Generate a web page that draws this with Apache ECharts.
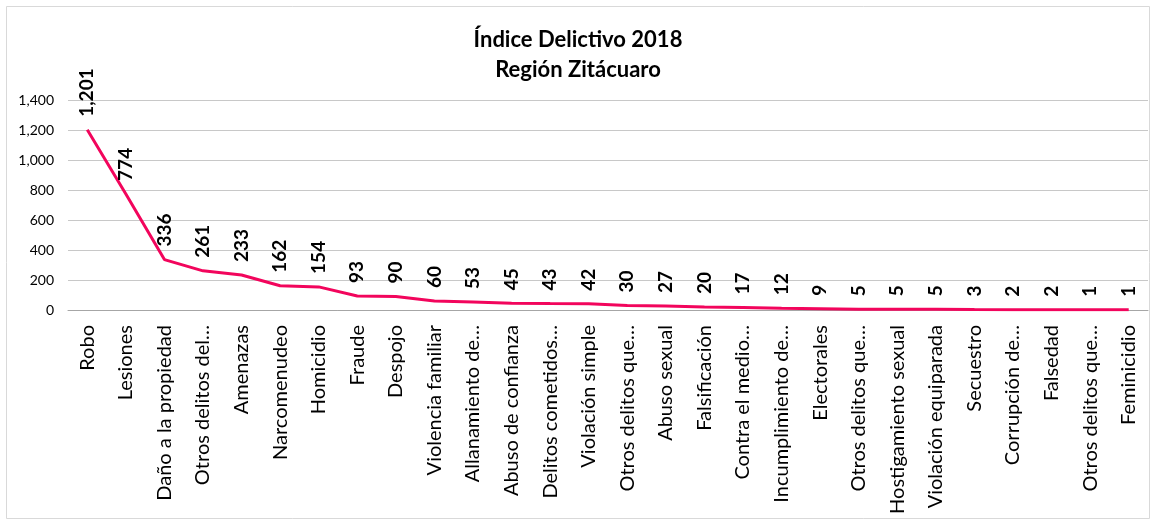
<!DOCTYPE html>
<html>
<head>
<meta charset="utf-8">
<script src="https://cdn.jsdelivr.net/npm/echarts@6/dist/echarts.min.js"></script>
<style>
html, body { margin: 0; padding: 0; background: #fff; }
#chart { width: 1156px; height: 525px; }
</style>
</head>
<body>
<div id="chart"></div>
<script>
// categorias (tal como aparecen recortadas en la grafica)
var categorias = [
	"Robo", "Lesiones", "Daño a la propiedad", "Otros delitos del…", "Amenazas",
	"Narcomenudeo", "Homicidio", "Fraude", "Despojo", "Violencia familiar",
	"Allanamiento de…", "Abuso de confianza", "Delitos cometidos…", "Violación simple",
	"Otros delitos que…", "Abuso sexual", "Falsificación", "Contra el medio…",
	"Incumplimiento de…", "Electorales", "Otros delitos que…", "Hostigamiento sexual",
	"Violación equiparada", "Secuestro", "Corrupción de…", "Falsedad",
	"Otros delitos que…", "Feminicidio"
];
var valores = [1201, 774, 336, 261, 233, 162, 154, 93, 90, 60, 53, 45, 43, 42, 30, 27, 20, 17, 12, 9, 5, 5, 5, 3, 2, 2, 1, 1];
var ticksY = [0, 200, 400, 600, 800, 1000, 1200, 1400];

var fuente = "Lato, 'Open Sans', sans-serif";
var chart = echarts.init(document.getElementById('chart'));

var option = {
	backgroundColor: '#fff',
	animation: false,
	title: {
		text: 'Índice Delictivo 2018\nRegión Zitácuaro',
		left: 'center',
		top: 20,
		textStyle: {
			fontFamily: fuente,
			fontSize: 22,
			fontWeight: 'bold',
			color: '#000',
			lineHeight: 30
		}
	},
	graphic: [{
		type: 'rect',
		shape: { x: 6.5, y: 6.5, width: 1143, height: 512 },
		style: { fill: null, stroke: '#d9d9d9', lineWidth: 1 },
		silent: true
	}],
	grid: { left: 68, right: 8, top: 100, bottom: 215 },
	xAxis: {
		type: 'category',
		data: categorias,
		boundaryGap: true,
		axisLine: { lineStyle: { color: '#a6a6a6' } },
		axisTick: { show: false },
		axisLabel: {
			interval: 0,
			rotate: 90,
			margin: 15,
			fontFamily: fuente,
			fontSize: 20,
			color: '#000'
		}
	},
	yAxis: {
		type: 'value',
		min: ticksY[0],
		max: ticksY[ticksY.length - 1],
		interval: 200,
		axisLine: { show: false },
		axisTick: { show: false },
		splitLine: { lineStyle: { color: '#c8c8c8' } },
		axisLabel: {
			fontFamily: fuente,
			fontSize: 14,
			color: '#000',
			margin: 14,
			formatter: function (v) { return v.toLocaleString('en-US'); }
		}
	},
	series: [{
		type: 'line',
		data: valores,
		symbol: 'circle',
		symbolSize: 2,
		showSymbol: true,
		showAllSymbol: true,
		itemStyle: { color: 'rgba(242,5,92,0)', borderWidth: 0 },
		lineStyle: { color: '#f2055c', width: 3 },
		label: {
			show: true,
			position: 'top',
			rotate: 90,
			distance: 12,
			align: 'left',
			verticalAlign: 'middle',
			fontFamily: fuente,
			fontSize: 19,
			fontWeight: 'bold',
			color: '#000',
			formatter: function (p) { return p.value.toLocaleString('en-US'); }
		}
	}]
};
chart.setOption(option);
</script>
</body>
</html>
